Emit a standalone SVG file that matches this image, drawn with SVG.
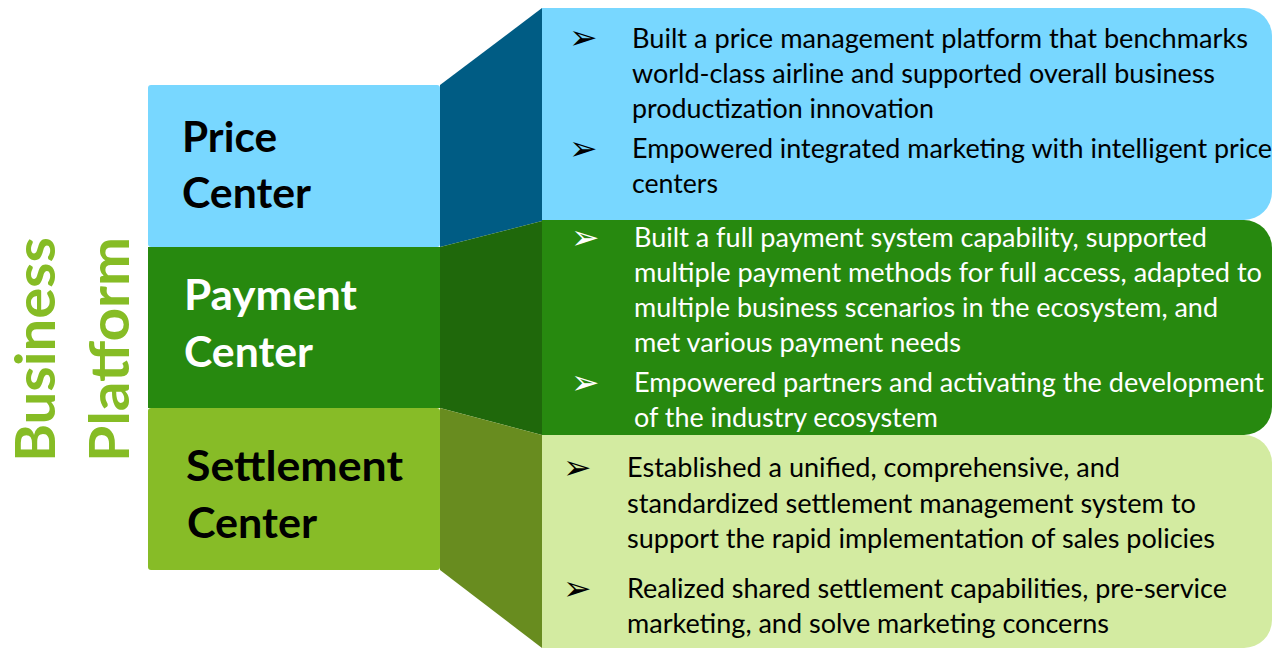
<svg xmlns="http://www.w3.org/2000/svg" width="1278" height="649" viewBox="0 0 1278 649">
  <style>
    .title { font-family: Lato, "Open Sans", sans-serif; font-weight: 700; font-size: 55px; fill: #86bc25; }
    .head { font-family: Lato, "Open Sans", sans-serif; font-weight: 700; font-size: 42px; }
    .body { font-family: Lato, "Open Sans", sans-serif; font-weight: 400; font-size: 26px; }
    .bullet { font-family: "DejaVu Sans", sans-serif; font-size: 34px; }
    .dark { fill: #000000; }
    .light { fill: #ffffff; }
  </style>

  <!-- vertical title -->
  <g id="title">
    <text class="title" transform="translate(55,349.5) rotate(-90)" text-anchor="middle" textLength="225" lengthAdjust="spacingAndGlyphs">Business</text>
    <text class="title" transform="translate(129,349.5) rotate(-90)" text-anchor="middle" textLength="225" lengthAdjust="spacingAndGlyphs">Platform</text>
  </g>

  <!-- Price Center -->
  <g id="price-center">
    <rect x="148" y="85" width="292" height="162" rx="3" fill="#78d7ff"/>
    <polygon points="440,85 542,8 542,221 440,247" fill="#005c84"/>
    <path d="M542,8 H1244 A28,28 0 0 1 1272,36 V192 A28,28 0 0 1 1244,220 H542 Z" fill="#78d7ff"/>
    <text class="head dark" x="182" y="152" textLength="95" lengthAdjust="spacingAndGlyphs">Price</text>
    <text class="head dark" x="182" y="208" textLength="129" lengthAdjust="spacingAndGlyphs">Center</text>
    <text class="bullet dark" x="569" y="49">➢</text>
    <text class="bullet dark" x="569" y="160">➢</text>
    <g class="body dark">
      <text x="632" y="48" textLength="616" lengthAdjust="spacingAndGlyphs">Built a price management platform that benchmarks</text>
      <text x="632" y="83" textLength="583" lengthAdjust="spacingAndGlyphs">world-class airline and supported overall business</text>
      <text x="632" y="118" textLength="302" lengthAdjust="spacingAndGlyphs">productization innovation</text>
      <text x="632" y="158" textLength="640" lengthAdjust="spacingAndGlyphs">Empowered integrated marketing with intelligent price</text>
      <text x="632" y="193" textLength="86" lengthAdjust="spacingAndGlyphs">centers</text>
    </g>
  </g>

  <!-- Payment Center -->
  <g id="payment-center">
    <rect x="148" y="247" width="292" height="161" fill="#27890f"/>
    <polygon points="440,247 542,221 542,435 440,408" fill="#1f680b"/>
    <path d="M542,220 H1244 A28,28 0 0 1 1272,248 V407 A28,28 0 0 1 1244,435 H542 Z" fill="#27890f"/>
    <text class="head light" x="184" y="310" textLength="173" lengthAdjust="spacingAndGlyphs">Payment</text>
    <text class="head light" x="184" y="367" textLength="129" lengthAdjust="spacingAndGlyphs">Center</text>
    <text class="bullet light" x="571" y="249">➢</text>
    <text class="bullet light" x="571" y="394">➢</text>
    <g class="body light">
      <text x="634" y="247" textLength="573" lengthAdjust="spacingAndGlyphs">Built a full payment system capability, supported</text>
      <text x="634" y="282" textLength="628" lengthAdjust="spacingAndGlyphs">multiple payment methods for full access, adapted to</text>
      <text x="634" y="317" textLength="584" lengthAdjust="spacingAndGlyphs">multiple business scenarios in the ecosystem, and</text>
      <text x="634" y="352" textLength="327" lengthAdjust="spacingAndGlyphs">met various payment needs</text>
      <text x="634" y="392" textLength="630" lengthAdjust="spacingAndGlyphs">Empowered partners and activating the development</text>
      <text x="634" y="427" textLength="304" lengthAdjust="spacingAndGlyphs">of the industry ecosystem</text>
    </g>
  </g>

  <!-- Settlement Center -->
  <g id="settlement-center">
    <rect x="148" y="408" width="292" height="162" rx="3" fill="#87bc27"/>
    <polygon points="440,408 542,435 542,648 440,570" fill="#688c1f"/>
    <path d="M542,435 H1244 A28,28 0 0 1 1272,463 V620 A28,28 0 0 1 1244,648 H542 Z" fill="#d3eba1"/>
    <text class="head dark" x="186" y="481" textLength="217" lengthAdjust="spacingAndGlyphs">Settlement</text>
    <text class="head dark" x="187" y="538" textLength="130" lengthAdjust="spacingAndGlyphs">Center</text>
    <text class="bullet dark" x="563" y="479">➢</text>
    <text class="bullet dark" x="563" y="600">➢</text>
    <g class="body dark">
      <text x="627" y="477" textLength="493" lengthAdjust="spacingAndGlyphs">Established a unified, comprehensive, and</text>
      <text x="627" y="513" textLength="569" lengthAdjust="spacingAndGlyphs">standardized settlement management system to</text>
      <text x="627" y="548" textLength="588" lengthAdjust="spacingAndGlyphs">support the rapid implementation of sales policies</text>
      <text x="627" y="598" textLength="600" lengthAdjust="spacingAndGlyphs">Realized shared settlement capabilities, pre-service</text>
      <text x="627" y="633" textLength="482" lengthAdjust="spacingAndGlyphs">marketing, and solve marketing concerns</text>
    </g>
  </g>
</svg>
